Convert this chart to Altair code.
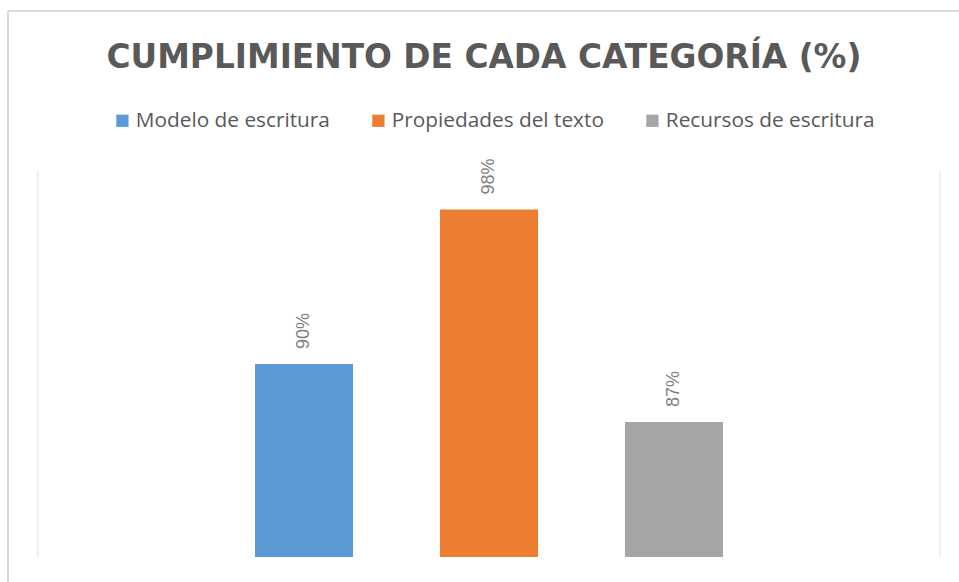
import altair as alt
import pandas as pd

series = ["Modelo de escritura", "Propiedades del texto", "Recursos de escritura"]
values = [90, 98, 87]
labels = ["90%", "98%", "87%"]
colors = ["#5B9BD5", "#ED7D31", "#A5A5A5"]

df = pd.DataFrame({"serie": series, "valor": values, "etiqueta": labels})

W, H = 902, 386

x_scale = alt.Scale(range=[217, 685], paddingInner=0.47, paddingOuter=0)
y_scale = alt.Scale(domain=[80, 100], zero=False, nice=False)

bars = alt.Chart(df).mark_bar(clip=True).encode(
    x=alt.X("serie:N", sort=series, axis=None, scale=x_scale),
    y=alt.Y("valor:Q", scale=y_scale, axis=None),
    y2=alt.datum(80),
    color=alt.Color("serie:N", sort=series,
                    scale=alt.Scale(domain=series, range=colors),
                    legend=alt.Legend(title=None, orient="none", direction="horizontal",
                                      legendX=74, legendY=-61,
                                      symbolType="square", symbolSize=150,
                                      symbolStrokeWidth=0, labelLimit=0,
                                      labelFont="Open Sans", labelFontSize=20.8,
                                      labelColor="#595959", labelOffset=3,
                                      columnPadding=38)),
)

text = alt.Chart(df).mark_text(angle=270, align="left", baseline="middle", dx=15,
                               font="Liberation Sans", fontSize=18, color="#7F7F7F").encode(
    x=alt.X("serie:N", sort=series, axis=None, scale=x_scale, bandPosition=0.5),
    y=alt.Y("valor:Q", scale=y_scale),
    text="etiqueta:N",
)

edge_l = alt.Chart(df).mark_rule(color="#F0F0F0", strokeWidth=2).encode(
    x=alt.value(0), y=alt.value(0), y2=alt.value(H))
edge_r = alt.Chart(df).mark_rule(color="#F0F0F0", strokeWidth=2).encode(
    x=alt.value(W), y=alt.value(0), y2=alt.value(H))

border_top = alt.Chart(df).mark_rule(color="#D9D9D9", strokeWidth=1.5, clip=False).encode(
    x=alt.value(-30), x2=alt.value(W + 25), y=alt.value(-160))
border_left = alt.Chart(df).mark_rule(color="#D9D9D9", strokeWidth=1.5, clip=False).encode(
    x=alt.value(-30), y=alt.value(-160), y2=alt.value(H + 30))

chart = alt.layer(border_top, border_left, edge_l, edge_r, bars, text).properties(
    width=W, height=H,
    autosize=alt.AutoSizeParams(type="none"),
    padding={"left": 38, "top": 171, "right": 19, "bottom": 25},
    title=alt.TitleParams("CUMPLIMIENTO DE CADA CATEGORÍA (%)", font="DejaVu Sans",
                          fontSize=32.8, fontWeight="bold", color="#595959",
                          anchor="middle", offset=0, dy=65, dx=-5),
).configure_view(stroke=None)

chart.save("out.html", embed_options={"renderer": "svg", "actions": False})
